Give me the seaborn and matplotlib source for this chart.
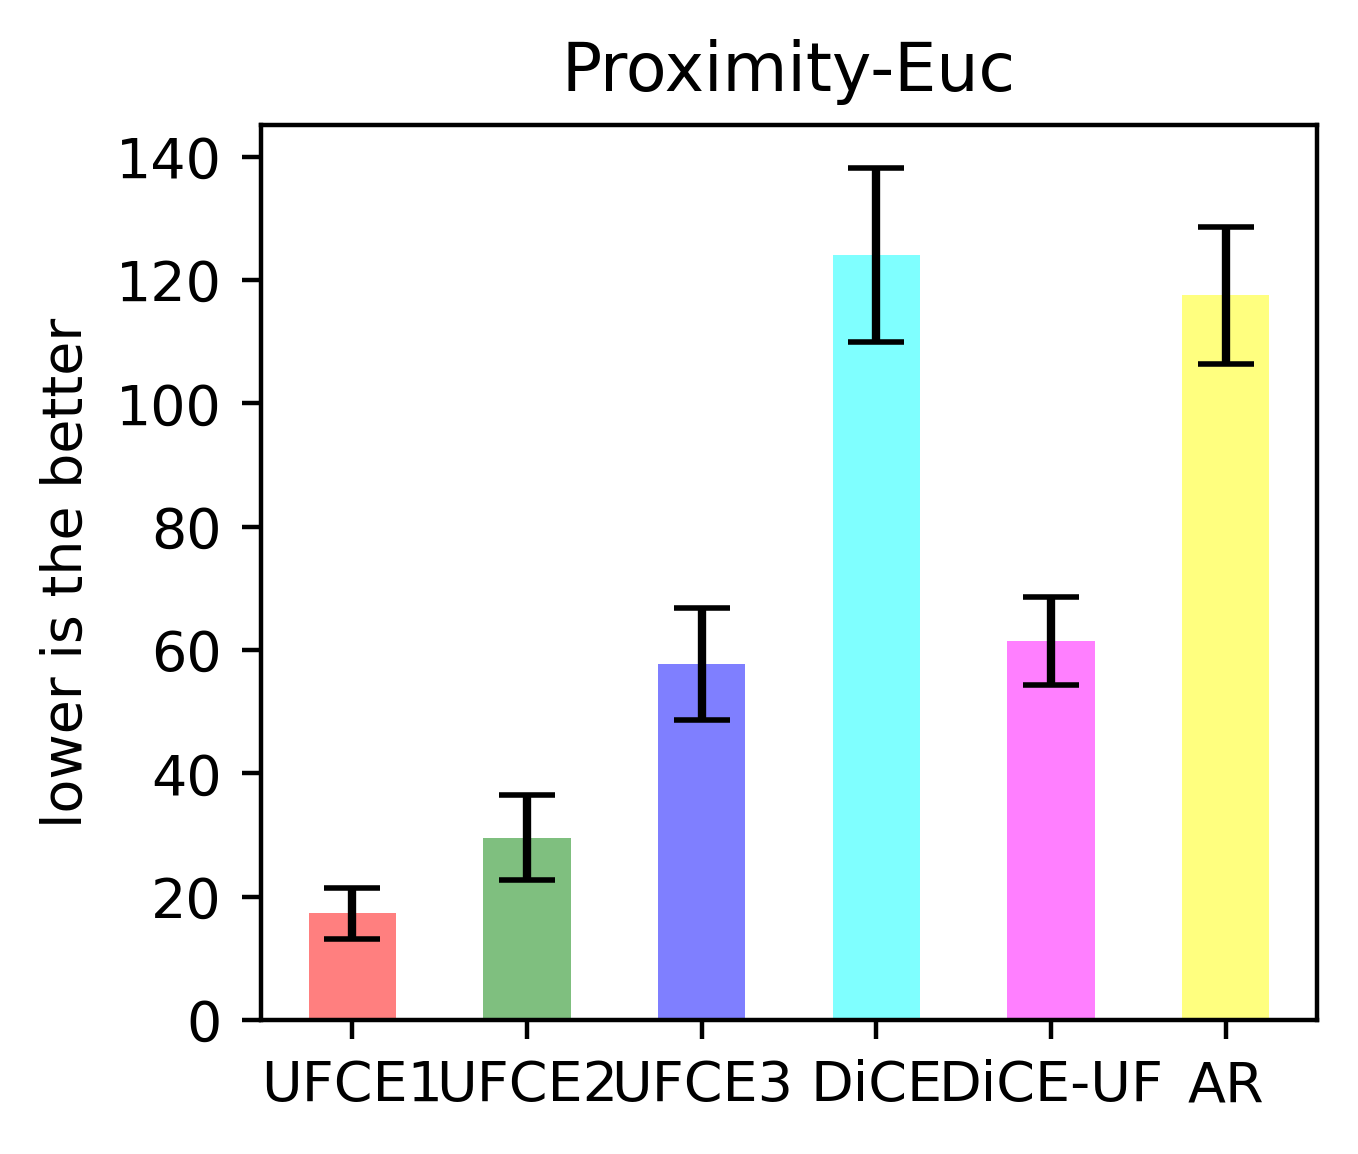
import matplotlib
matplotlib.use('Agg')
import matplotlib.pyplot as plt
import seaborn as sns
import pandas as pd

methods = ['UFCE1', 'UFCE2', 'UFCE3', 'DiCE', 'DiCE-UF', 'AR']
means = [17.3, 29.6, 57.7, 124.0, 61.5, 117.5]
errors = [4.1, 6.9, 9.1, 14.1, 7.1, 11.1]
colors = ['red', 'green', 'blue', 'cyan', 'magenta', 'yellow']

df = pd.DataFrame({'method': methods, 'value': means})

fig, ax = plt.subplots(figsize=(1358 / 400, 1154 / 400), dpi=400)
sns.barplot(data=df, x='method', y='value', hue='method', palette=colors,
            alpha=0.5, width=0.5, legend=False, ax=ax, saturation=1)
ax.errorbar(range(len(methods)), means, yerr=errors, fmt='none',
            ecolor='black', capsize=5, elinewidth=1.5)
ax.set_title('Proximity-Euc', fontsize=12)
ax.set_ylabel('lower is the better', fontsize=10)
ax.set_xlabel('')
ax.tick_params(labelsize=10)
ax.set_xlim(-0.525, len(methods) - 0.475)
ax.set_ylim(0, 145.2)
fig.subplots_adjust(left=0.192, right=0.970, bottom=0.116, top=0.892)
plt.savefig('out.png', dpi=400)
